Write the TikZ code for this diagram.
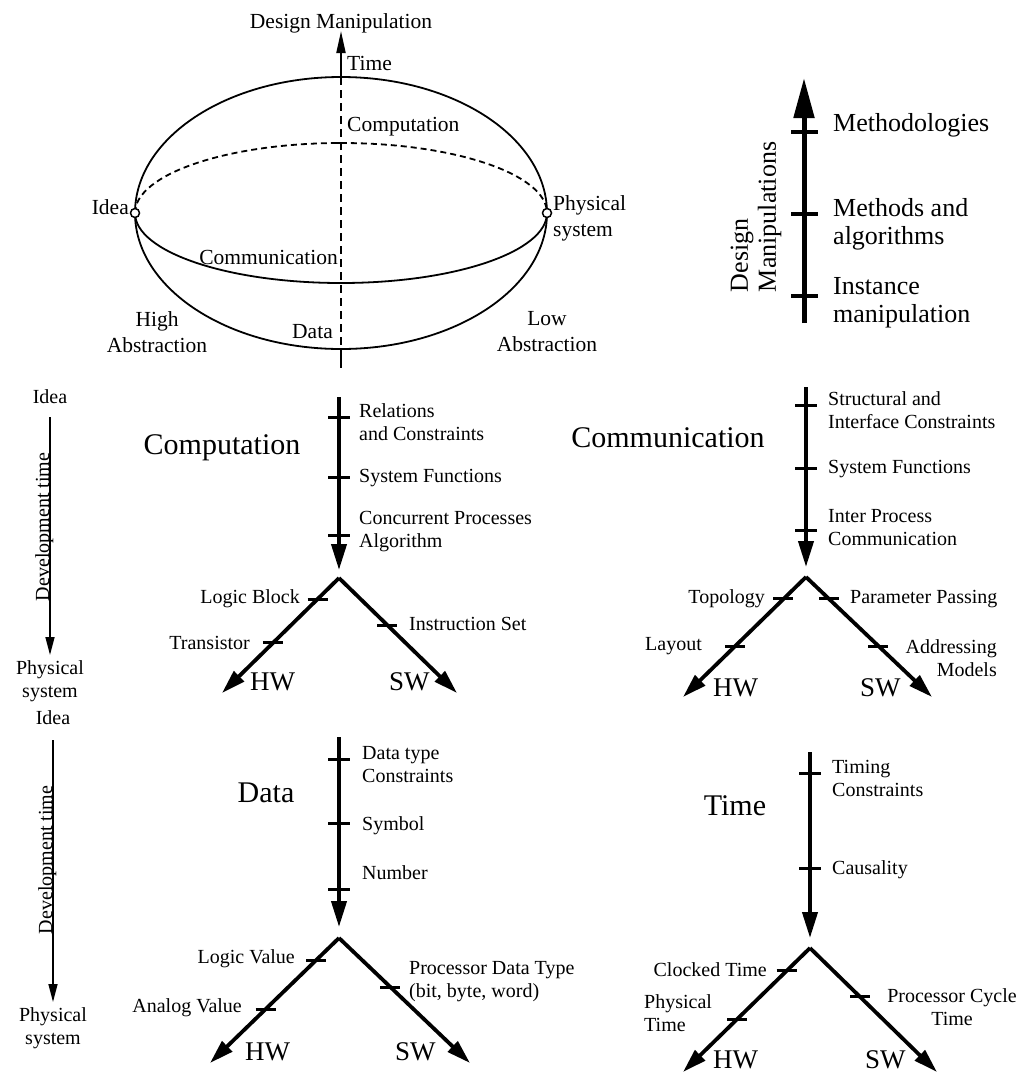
\documentclass[tikz,border=0pt]{standalone}
\usepackage{fontspec}
\setmainfont{Liberation Serif}
\usetikzlibrary{arrows.meta,calc}

\tikzset{
  lbl/.style={font=\fontsize{20}{23}\selectfont, inner sep=0pt},
  toplbl/.style={font=\fontsize{21.5}{26}\selectfont, inner sep=0pt},
  bigtitle/.style={font=\fontsize{30}{34}\selectfont, inner sep=0pt},
  hwsw/.style={font=\fontsize{27}{30}\selectfont, inner sep=0pt},
  scalelbl/.style={font=\fontsize{26}{28}\selectfont, inner sep=0pt},
  stem/.style={line width=4pt, -{Triangle[length=26pt,width=15pt]}},
  branch/.style={line width=3.8pt, -{Triangle[length=24pt,width=14pt]}},
  tickmark/.style={line width=3pt},
  devarrow/.style={line width=1.5pt, -{Triangle[length=18pt,width=9pt]}},
  shell/.style={line width=1.8pt},
  hidden/.style={line width=1.8pt, dash pattern=on 6pt off 4pt},
}
% short horizontal mark centred on a named point
\newcommand{\brtick}[1]{\draw[tickmark] ($(#1)+(-10,0)$) -- ($(#1)+(10,0)$);}
\newcommand{\stemtick}[2]{\draw[tickmark] ($(#1)+(-11,#2)$) -- ($(#1)+(11,#2)$);}

\begin{document}
\begin{tikzpicture}[x=1pt,y=-1pt]
\useasboundingbox (0,0) rectangle (1035,1080);

% ---------------- ellipsoid of design views ----------------
\coordinate (ell-c) at (341,213);
\coordinate (ell-l) at (135,213);
\coordinate (ell-r) at (547,213);
\draw[shell] (ell-c) ellipse [x radius=206, y radius=136];
\draw[hidden] (ell-l) arc[start angle=180, end angle=360, x radius=206, y radius=70];
\draw[shell] (ell-l) arc[start angle=180, end angle=0, x radius=206, y radius=70];

\coordinate (ax-top) at (341,77);
\coordinate (ax-tip) at (341,31);
\coordinate (ax-bot) at (341,349);
\coordinate (ax-end) at (341,368);
\draw[line width=2pt, -{Triangle[length=22pt,width=9pt]}] (ax-top) -- (ax-tip);
\draw[line width=1.8pt, dash pattern=on 8pt off 5pt] (ax-top) -- (ax-bot);
\draw[line width=2pt] (ax-bot) -- (ax-end);
\draw[line width=2pt] ($(ax-top)+(-9,0)$) -- ($(ax-top)+(9,0)$);
\draw[line width=2pt] ($(ax-bot)+(-9,0)$) -- ($(ax-bot)+(9,0)$);
\draw[line width=1.8pt] (335,143) -- (347,143);
\draw[line width=1.8pt] (335,283) -- (347,283);

\draw[line width=1.5pt, fill=white] (ell-l) circle[radius=4.5pt];
\draw[line width=1.5pt, fill=white] (ell-r) circle[radius=4.5pt];

\node[toplbl] (e-dm) at (341,23) {Design Manipulation};
\node[toplbl, anchor=west] (e-time) at (347,63) {Time};
\node[toplbl, anchor=west] (e-comp) at (347,127) {Computation};
\node[toplbl, anchor=east] (e-idea) at (129,207) {Idea};
\node[toplbl, anchor=west, align=left] (e-phys) at (553,218) {Physical\\system};
\node[toplbl, anchor=east] (e-comm) at (338,257) {Communication};
\node[toplbl, align=center] (e-high) at (157,332) {High\\Abstraction};
\node[toplbl, anchor=east] (e-data) at (333,332) {Data};
\node[toplbl, align=center] (e-low) at (547,332) {Low\\Abstraction};

% ---------------- design manipulation scale ----------------
\coordinate (dm-bot) at (804,323);
\coordinate (dm-tip) at (804,78);
\draw[line width=5pt, -{Triangle[length=40pt,width=20pt]}] (dm-bot) -- (dm-tip);
\foreach \yy in {132,214,296} \draw[line width=3.5pt] (791,\yy) -- (818,\yy);
\node[scalelbl, anchor=west] (dm-1) at (833,125) {Methodologies};
\node[scalelbl, anchor=west, align=left] (dm-2) at (833,224) {Methods and\\algorithms};
\node[scalelbl, anchor=west, align=left] (dm-3) at (833,303) {Instance\\manipulation};
\node[scalelbl, rotate=90, align=left] (dm-title) at (756,217) {Design\\Manipulations};

% ---------------- development time axes ----------------
\node[lbl] (dv1-idea) at (50,397) {Idea};
\coordinate (dv1-a) at (50,417);
\coordinate (dv1-b) at (50,655);
\draw[devarrow] (dv1-a) -- (dv1-b);
\node[lbl, rotate=90, anchor=base] (dv1-lbl) at (49,527) {Development time};
\node[lbl, align=center] (dv1-phys) at (50,681) {Physical\\system};

\node[lbl] (dv2-idea) at (53,718) {Idea};
\coordinate (dv2-a) at (53,740);
\coordinate (dv2-b) at (53,1002);
\draw[devarrow] (dv2-a) -- (dv2-b);
\node[lbl, rotate=90, anchor=base] (dv2-lbl) at (52,860) {Development time};
\node[lbl, align=center] (dv2-phys) at (53,1028) {Physical\\system};

% ---------------- Computation ----------------
\coordinate (cp-top) at (339,397);
\coordinate (cp-end) at (339,570);
\coordinate (cp-apex) at (339,578);
\coordinate (cp-hw) at (222,693);
\coordinate (cp-sw) at (457,693);
\draw[stem] (cp-top) -- (cp-end);
\stemtick{cp-top}{20} \stemtick{cp-top}{80} \stemtick{cp-top}{138}
\draw[branch] (cp-apex) -- (cp-hw);
\draw[branch] (cp-apex) -- (cp-sw);
\coordinate (cp-h1) at ($(cp-apex)!0.183!(cp-hw)$);
\coordinate (cp-h2) at ($(cp-apex)!0.565!(cp-hw)$);
\coordinate (cp-s1) at ($(cp-apex)!0.409!(cp-sw)$);
\brtick{cp-h1} \brtick{cp-h2} \brtick{cp-s1}
\node[bigtitle] (cp-title) at (222,448) {Computation};
\node[lbl, anchor=west, align=left] (cp-l1) at (359,422) {Relations\\and Constraints};
\node[lbl, anchor=west] (cp-l2) at (359,478) {System Functions};
\node[lbl, anchor=west, align=left] (cp-l3) at (359,532) {Concurrent Processes\\Algorithm};
\node[lbl, anchor=east] (cp-lb) at (300,599) {Logic Block};
\node[lbl, anchor=east] (cp-tr) at (250,643) {Transistor};
\node[lbl, anchor=west] (cp-is) at (409,624) {Instruction Set};
\node[hwsw, anchor=west] (cp-hwl) at (250,682) {HW};
\node[hwsw, anchor=west] (cp-swl) at (389,682) {SW};

% ---------------- Communication ----------------
\coordinate (cm-top) at (806,387);
\coordinate (cm-end) at (806,567);
\coordinate (cm-apex) at (806,577);
\coordinate (cm-hw) at (683,697);
\coordinate (cm-sw) at (932,697);
\draw[stem] (cm-top) -- (cm-end);
\stemtick{cm-top}{18} \stemtick{cm-top}{81} \stemtick{cm-top}{143}
\draw[branch] (cm-apex) -- (cm-hw);
\draw[branch] (cm-apex) -- (cm-sw);
\coordinate (cm-h1) at ($(cm-apex)!0.183!(cm-hw)$);
\coordinate (cm-h2) at ($(cm-apex)!0.575!(cm-hw)$);
\coordinate (cm-s1) at ($(cm-apex)!0.183!(cm-sw)$);
\coordinate (cm-s2) at ($(cm-apex)!0.575!(cm-sw)$);
\brtick{cm-h1} \brtick{cm-h2} \brtick{cm-s1} \brtick{cm-s2}
\node[bigtitle] (cm-title) at (668,438) {Communication};
\node[lbl, anchor=west, align=left] (cm-l1) at (828,410) {Structural and\\Interface Constraints};
\node[lbl, anchor=west] (cm-l2) at (828,469) {System Functions};
\node[lbl, anchor=west, align=left] (cm-l3) at (828,528) {Inter Process\\Communication};
\node[lbl, anchor=east] (cm-top-l) at (765,599) {Topology};
\node[lbl, anchor=west] (cm-pp) at (850,599) {Parameter Passing};
\node[lbl, anchor=east] (cm-lay) at (702,646) {Layout};
\node[lbl, anchor=east, align=right] (cm-am) at (997,658) {Addressing\\Models};
\node[hwsw, anchor=west] (cm-hwl) at (713,688) {HW};
\node[hwsw, anchor=west] (cm-swl) at (860,688) {SW};

% ---------------- Data ----------------
\coordinate (dt-top) at (339,737);
\coordinate (dt-end) at (339,927);
\coordinate (dt-apex) at (339,938);
\coordinate (dt-hw) at (210,1063);
\coordinate (dt-sw) at (470,1063);
\draw[stem] (dt-top) -- (dt-end);
\stemtick{dt-top}{22} \stemtick{dt-top}{86} \stemtick{dt-top}{152}
\draw[branch] (dt-apex) -- (dt-hw);
\draw[branch] (dt-apex) -- (dt-sw);
\coordinate (dt-h1) at ($(dt-apex)!0.176!(dt-hw)$);
\coordinate (dt-h2) at ($(dt-apex)!0.568!(dt-hw)$);
\coordinate (dt-s1) at ($(dt-apex)!0.392!(dt-sw)$);
\brtick{dt-h1} \brtick{dt-h2} \brtick{dt-s1}
\node[bigtitle] (dt-title) at (266,793) {Data};
\node[lbl, anchor=west, align=left] (dt-l1) at (362,765) {Data type\\Constraints};
\node[lbl, anchor=west] (dt-l2) at (362,826) {Symbol};
\node[lbl, anchor=west] (dt-l3) at (362,873) {Number};
\node[lbl, anchor=east] (dt-lv) at (295,959) {Logic Value};
\node[lbl, anchor=east] (dt-av) at (242,1008) {Analog Value};
\node[lbl, anchor=west, align=left] (dt-pd) at (409,982) {Processor Data Type\\(bit, byte, word)};
\node[hwsw, anchor=west] (dt-hwl) at (245,1052) {HW};
\node[hwsw, anchor=west] (dt-swl) at (395,1052) {SW};

% ---------------- Time ----------------
\coordinate (tm-top) at (810,752);
\coordinate (tm-end) at (810,938);
\coordinate (tm-apex) at (810,948);
\coordinate (tm-hw) at (683,1072);
\coordinate (tm-sw) at (937,1072);
\draw[stem] (tm-top) -- (tm-end);
\stemtick{tm-top}{21} \stemtick{tm-top}{116}
\draw[branch] (tm-apex) -- (tm-hw);
\draw[branch] (tm-apex) -- (tm-sw);
\coordinate (tm-h1) at ($(tm-apex)!0.185!(tm-hw)$);
\coordinate (tm-h2) at ($(tm-apex)!0.573!(tm-hw)$);
\coordinate (tm-s1) at ($(tm-apex)!0.395!(tm-sw)$);
\brtick{tm-h1} \brtick{tm-h2} \brtick{tm-s1}
\node[bigtitle] (tm-title) at (735,806) {Time};
\node[lbl, anchor=west, align=left] (tm-l1) at (832,778) {Timing\\Constraints};
\node[lbl, anchor=west] (tm-l2) at (832,870) {Causality};
\node[lbl, anchor=east] (tm-ct) at (767,970) {Clocked Time};
\node[lbl, anchor=west, align=left] (tm-pt) at (644,1013) {Physical\\Time};
\node[lbl, align=center] (tm-pc) at (952,1007) {Processor Cycle\\Time};
\node[hwsw, anchor=west] (tm-hwl) at (713,1060) {HW};
\node[hwsw, anchor=west] (tm-swl) at (865,1060) {SW};

\end{tikzpicture}
\end{document}
